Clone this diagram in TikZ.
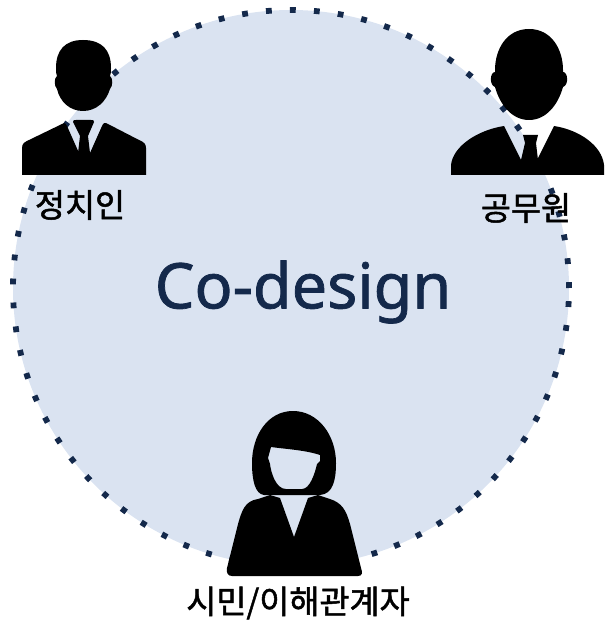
\documentclass[tikz,border=0pt]{standalone}
\usepackage{fontspec}
\setmainfont[FakeBold=1.2]{Noto Sans}
\newfontfamily\krfont[FakeBold=1.5]{Noto Sans CJK KR}
\usetikzlibrary{positioning}
\definecolor{circfill}{HTML}{DAE3F1}
\definecolor{navy}{HTML}{14294B}
\tikzset{circ/.style={circle,draw=navy,fill=circfill,line width=5.8pt,dash pattern=on 5.8pt off 18.2pt,minimum size=556pt,inner sep=0pt},
    lab/.style={inner sep=0pt,font=\krfont\fontsize{32.7}{33}\selectfont,text=black},
    ico/.style={fill=black,draw=none,even odd rule}}

\begin{document}
\begin{tikzpicture}[x=1pt,y=-1pt]
    \useasboundingbox (0,0) rectangle (604,620);
    \node[circ] (c) at (291,288) {};
    \node[inner sep=0pt,text=navy,font=\fontsize{63}{63}\selectfont] (title) at (303,292) {Co-design};

    % politician
    \fill[ico] (83,40) .. controls (102,40) and (111,50) .. (111,68) .. controls (111,72) and (111,74) .. (110,76)
        .. controls (113,78) and (113,86) .. (110,89) .. controls (106,102) and (96,111) .. (83,111)
        .. controls (70,111) and (60,102) .. (57,89) .. controls (54,86) and (54,78) .. (57,76)
        .. controls (56,74) and (56,72) .. (56,68) .. controls (56,50) and (65,40) .. (83,40) -- cycle;
    \fill[ico] (22,175) -- (22,148) .. controls (22,143) and (25,142) .. (29,140) -- (62,124) .. controls (65,122) and (66,124) .. (67,126)
        -- (79,153) -- (90,153) -- (102,126) .. controls (103,123) and (105,122) .. (108,124) -- (139,140)
        .. controls (144,142) and (146,144) .. (146,148) -- (146,175) -- cycle;
    \fill[ico] (73,122) .. controls (73,120) and (74,120) .. (76,120) -- (91,120) .. controls (93,120) and (94,120) .. (94,122)
        -- (88,136) -- (90,153) -- (78,153) -- (80,136) -- cycle;

    % official
    \fill[ico] (529,29) .. controls (552,29) and (563,50) .. (563,70) -- (563,72) .. controls (568,72) and (569,85) .. (563,87)
        .. controls (558,105) and (546,120) .. (529,120) .. controls (512,120) and (500,105) .. (495,87)
        .. controls (489,85) and (490,72) .. (495,72) -- (495,70) .. controls (495,50) and (506,29) .. (529,29) -- cycle;
    \fill[ico] (451,175) -- (451,165) .. controls (453,146) and (478,130) .. (504,126) -- (521,160) -- (537,160) -- (554,126)
        .. controls (580,130) and (602,146) .. (604,165) -- (604,175) -- cycle;
    \fill[ico] (523,135) -- (538,135) -- (536,143) -- (538,160) -- (521,160) -- (525,143) -- cycle;

    % citizen
    \fill[ico] (293,411) .. controls (318,411) and (336,435) .. (336,463) .. controls (336,480) and (333,494) .. (320,495)
        -- (264,495) .. controls (255,494) and (252,480) .. (252,463) .. controls (252,435) and (268,411) .. (293,411) -- cycle
        (271,447) .. controls (285,449) and (305,450) .. (320,455) -- (320,461) -- (317,464) .. controls (315,473) and (310,489) .. (302,489)
        -- (286,489) .. controls (276,489) and (271,473) .. (270,464) -- (268,458) -- cycle;
    \fill[ico] (270,495) -- (258,499) .. controls (245,501) and (242,510) .. (238,524) -- (227,568) .. controls (226,573) and (228,576) .. (232,576)
        -- (358,576) .. controls (362,576) and (363,573) .. (361,568) -- (350,524) .. controls (346,510) and (342,503) .. (330,499) -- (318,495)
        -- (308,498) -- (294,537) -- (280,498) -- cycle;

    \node[lab] (pol) at (80,205) {정치인};
    \node[lab] (off) at (526,208) {공무원};
    \node[lab] (cit) at (298,603) {시민/이해관계자};
\end{tikzpicture}
\end{document}
